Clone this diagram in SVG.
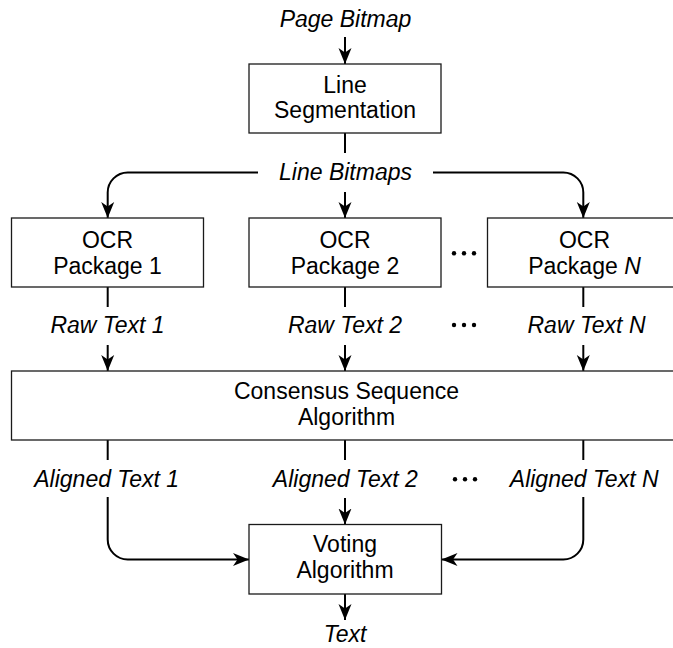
<svg xmlns="http://www.w3.org/2000/svg" width="673" height="648" viewBox="0 0 673 648">
<style>
  .box{fill:#fff;stroke:#1a1a1a;stroke-width:1.3}
  .t{font-family:"Liberation Sans",Arial,sans-serif;font-size:23px;fill:#000;text-anchor:middle}
  .i{font-style:italic}
  .c{fill:none;stroke:#000;stroke-width:2}
  .a{marker-end:url(#arr)}
  .dot{fill:#000}
</style>
<defs>
  <marker id="arr" markerUnits="userSpaceOnUse" markerWidth="17" markerHeight="14" refX="16" refY="7" orient="auto" viewBox="0 0 17 14">
    <path d="M0,0.5 L16,7 L0,13.5 L4.5,7 Z" fill="#000"/>
  </marker>
</defs>

<g id="connectors">
  <path class="c a" d="M345,37 V64"/>
  <path class="c" d="M345,133 V153"/>
  <path class="c a" d="M258,172.5 H127.7 A20,20 0 0 0 107.7,192.5 V218"/>
  <path class="c a" d="M433,172.5 H563.3 A20,20 0 0 1 583.3,192.5 V218"/>
  <path class="c a" d="M345,192 V218"/>
  <path class="c" d="M107.7,287 V307"/>
  <path class="c" d="M345,287 V307"/>
  <path class="c" d="M583.3,287 V307"/>
  <path class="c a" d="M107.7,345 V371"/>
  <path class="c a" d="M345,345 V371"/>
  <path class="c a" d="M583.3,345 V371"/>
  <path class="c" d="M107.7,440 V460"/>
  <path class="c" d="M345,440 V460"/>
  <path class="c" d="M583.3,440 V460"/>
  <path class="c a" d="M345,498 V524.5"/>
  <path class="c a" d="M107.7,497 V539.5 A20,20 0 0 0 127.7,559.5 H249"/>
  <path class="c a" d="M583.3,497 V539.5 A20,20 0 0 1 563.3,559.5 H441.5"/>
  <path class="c a" d="M345,594 V620"/>
</g>

<g id="label-page-bitmap"><text class="t i" x="345.5" y="26.7">Page Bitmap</text></g>

<g id="line-segmentation">
  <rect class="box" x="249" y="64" width="192" height="69"/>
  <text class="t" x="345" y="92.7">Line</text>
  <text class="t" x="345" y="118.3">Segmentation</text>
</g>

<g id="label-line-bitmaps"><text class="t i" x="345.5" y="180">Line Bitmaps</text></g>

<g id="ocr1">
  <rect class="box" x="11.5" y="218" width="192" height="69"/>
  <text class="t" x="107.5" y="248">OCR</text>
  <text class="t" x="107.5" y="274">Package 1</text>
</g>
<g id="ocr2">
  <rect class="box" x="249" y="218" width="192" height="69"/>
  <text class="t" x="345" y="248">OCR</text>
  <text class="t" x="345" y="274">Package 2</text>
</g>
<g id="ocrN">
  <rect class="box" x="487.5" y="218" width="192" height="69"/>
  <text class="t" x="584.5" y="248">OCR</text>
  <text class="t" x="584.5" y="274">Package <tspan class="i">N</tspan></text>
</g>

<g id="dots">
  <circle class="dot" cx="454" cy="253.3" r="2.2"/>
  <circle class="dot" cx="464" cy="253.3" r="2.2"/>
  <circle class="dot" cx="474" cy="253.3" r="2.2"/>
  <circle class="dot" cx="454" cy="325" r="2.2"/>
  <circle class="dot" cx="464" cy="325" r="2.2"/>
  <circle class="dot" cx="474" cy="325" r="2.2"/>
  <circle class="dot" cx="455" cy="479.3" r="2.2"/>
  <circle class="dot" cx="465" cy="479.3" r="2.2"/>
  <circle class="dot" cx="475" cy="479.3" r="2.2"/>
</g>

<g id="raw-labels">
  <text class="t i" x="107.5" y="333">Raw Text 1</text>
  <text class="t i" x="345" y="333">Raw Text 2</text>
  <text class="t i" x="586.5" y="333">Raw Text N</text>
</g>

<g id="consensus">
  <rect class="box" x="11.5" y="371" width="668" height="69"/>
  <text class="t" x="346.5" y="399">Consensus Sequence</text>
  <text class="t" x="346.5" y="425">Algorithm</text>
</g>

<g id="aligned-labels">
  <text class="t i" x="106.7" y="486.7">Aligned Text 1</text>
  <text class="t i" x="345.3" y="486.7">Aligned Text 2</text>
  <text class="t i" x="584.2" y="486.7">Aligned Text N</text>
</g>

<g id="voting">
  <rect class="box" x="249" y="524.5" width="192.5" height="69.5"/>
  <text class="t" x="345" y="551.7">Voting</text>
  <text class="t" x="345" y="578">Algorithm</text>
</g>

<g id="label-text"><text class="t i" x="345" y="642">Text</text></g>
</svg>
